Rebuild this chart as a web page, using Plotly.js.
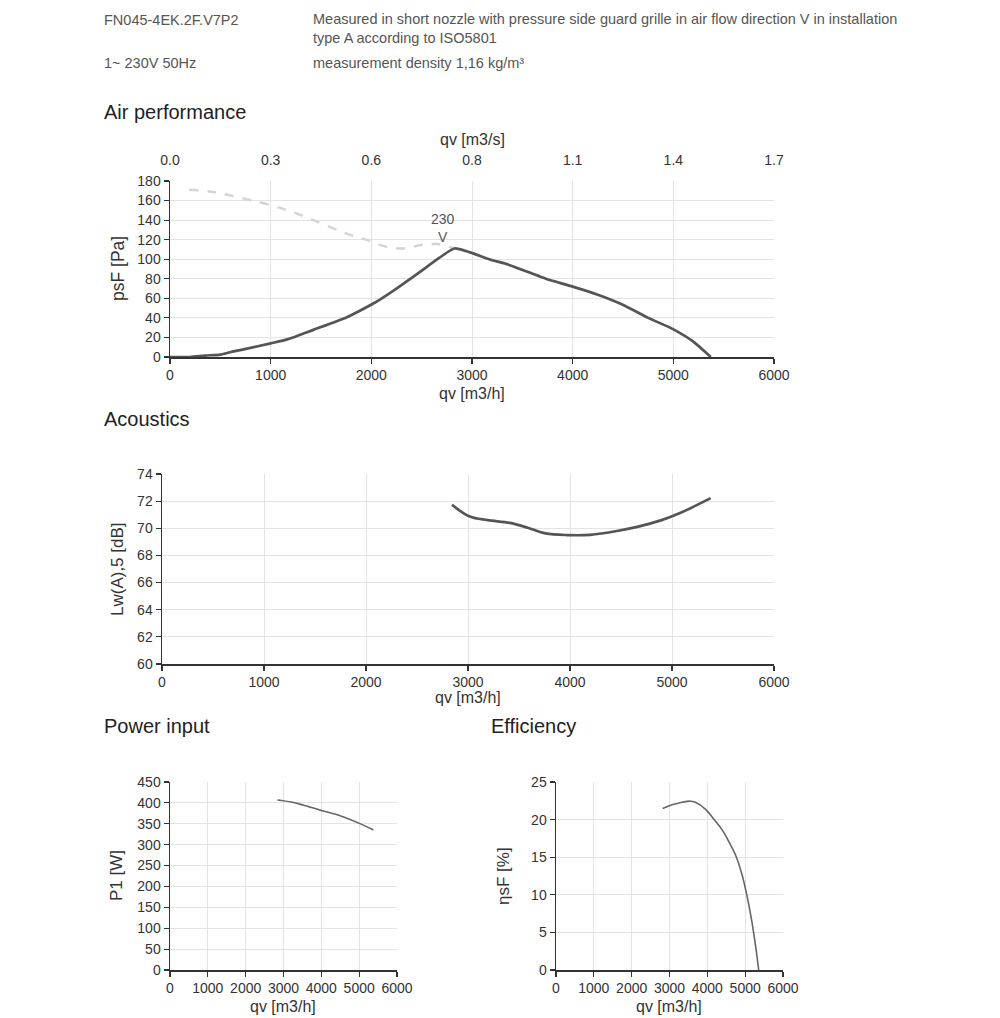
<!DOCTYPE html>
<html>
<head>
<meta charset="utf-8">
<script src="https://cdn.plot.ly/plotly-3.0.1.min.js"></script>
<style>html,body{margin:0;padding:0;background:#fff;}#chart{width:1000px;height:1018px;}</style>
</head>
<body>
<div id="chart"></div>
<script>
// ---- Data ----
const airQv = [0, 200, 350, 500, 620, 765, 1000, 1165, 1430, 1762, 2006, 2073, 2250, 2470, 2670, 2825, 2980, 3200, 3315, 3557, 3734, 4000, 4243, 4487, 4752, 4996, 5195, 5372];
const airPsf = [0, 0, 1.5, 2.5, 5.5, 8.5, 14, 18, 28, 41, 54, 58, 70, 86, 101, 111, 107, 99, 96, 87, 80, 72, 64, 54, 40, 28.5, 16, 0];
const limitQv = [190, 412, 633, 1010, 1253, 1519, 1762, 1961, 2140, 2316, 2493, 2648, 2825];
const limitPsf = [171, 169, 164.5, 155, 147, 136, 126, 119.5, 113, 111, 114.5, 115.5, 111];
const acQv = [2843, 3017, 3192, 3411, 3586, 3761, 3979, 4198, 4460, 4679, 4898, 5073, 5379];
const acLw = [71.73, 70.86, 70.6, 70.4, 70.04, 69.62, 69.5, 69.52, 69.8, 70.14, 70.6, 71.1, 72.22];
const pwQv = [2838, 3207, 3514, 3997, 4480, 5007, 5376];
const pwP1 = [407, 402, 395, 382, 370, 351, 335];
const efQv = [2819, 3066, 3330, 3550, 3683, 3947, 4141, 4388, 4564, 4740, 4916, 5048, 5181, 5286, 5357];
const efEta = [21.48, 21.96, 22.3, 22.45, 22.3, 21.4, 20.25, 18.66, 17.1, 15.36, 12.7, 9.86, 6.34, 2.8, 0];
const qvTickVals = [0, 1000, 2000, 3000, 4000, 5000, 6000];
const qvSecTickText = ['0.0', '0.3', '0.6', '0.8', '1.1', '1.4', '1.7'];
const curveLabel = '230<br>V';

// ---- Styling helpers ----
const W = 1000, H = 1018;
const px = v => v / W;
const py = v => 1 - v / H;
const NARROW = '"Liberation Sans Narrow", "Arial Narrow", "Liberation Sans", Arial, sans-serif';
const REG = '"Liberation Sans", Arial, sans-serif';
const AX = '#333333';
const GRID = '#e3e3e3';

function xAx(domain, anchor, font, size) {
  return {domain: domain, anchor: anchor, range: [0, 6000], tickvals: qvTickVals,
    showgrid: true, gridcolor: GRID, gridwidth: 1, zeroline: false,
    showline: true, linecolor: AX, linewidth: 1.5, ticks: 'outside', ticklen: 5, tickcolor: AX, tickwidth: 1.2,
    tickfont: {family: font, size: size, color: '#333'}, fixedrange: true};
}
function yAx(domain, anchor, range, dtick, font, size) {
  return {domain: domain, anchor: anchor, range: range, dtick: dtick, tick0: range[0],
    showgrid: true, gridcolor: GRID, gridwidth: 1, zeroline: false,
    showline: true, linecolor: AX, linewidth: 1.5, ticks: 'outside', ticklen: 5, tickcolor: AX, tickwidth: 1.2,
    tickfont: {family: font, size: size, color: '#333'}, fixedrange: true};
}

const traces = [
  {x: limitQv, y: limitPsf, xaxis: 'x', yaxis: 'y', mode: 'lines', line: {color: '#d4d4d4', width: 2.5, dash: 'dash', shape: 'spline'}, hoverinfo: 'skip'},
  {x: airQv, y: airPsf, xaxis: 'x', yaxis: 'y', mode: 'lines', line: {color: '#555555', width: 2.7, shape: 'spline', smoothing: 0.6}},
  {x: [0], y: [-100], xaxis: 'x2', yaxis: 'y', mode: 'markers', marker: {opacity: 0}, hoverinfo: 'skip'},
  {x: acQv, y: acLw, xaxis: 'x3', yaxis: 'y3', mode: 'lines', line: {color: '#555555', width: 2.7, shape: 'spline'}},
  {x: pwQv, y: pwP1, xaxis: 'x4', yaxis: 'y4', mode: 'lines', line: {color: '#666666', width: 1.6, shape: 'spline'}},
  {x: efQv, y: efEta, xaxis: 'x5', yaxis: 'y5', mode: 'lines', line: {color: '#666666', width: 1.6, shape: 'spline'}}
];

function txt(text, x, y, size, opts) {
  return Object.assign({text: text, x: px(x), y: py(y), xref: 'paper', yref: 'paper', showarrow: false,
    xanchor: 'left', yanchor: 'middle', align: 'left',
    font: {family: REG, size: size, color: '#333'}}, opts || {});
}
const HDR = {family: NARROW, size: 14.5, color: '#555'};
const SEC = {family: REG, size: 20, color: '#222'};

const annotations = [
  txt('FN045-4EK.2F.V7P2', 102, 20, 14.5, {font: HDR}),
  txt('Measured in short nozzle with pressure side guard grille in air flow direction V in installation<br>type A according to ISO5801', 311, 29, 14.5, {font: HDR}),
  txt('1~ 230V 50Hz', 102, 63, 14.5, {font: HDR}),
  txt('measurement density 1,16 kg/m³', 311, 63, 14.5, {font: HDR}),
  txt('Air performance', 102, 112, 20, {font: SEC}),
  txt('Acoustics', 102, 419, 20, {font: SEC}),
  txt('Power input', 102, 726, 20, {font: SEC}),
  txt('Efficiency', 489, 726, 20, {font: SEC}),
  // axis titles
  txt('qv [m3/s]', 472, 139, 16, {xanchor: 'center', font: {family: NARROW, size: 16, color: '#333'}}),
  txt('qv [m3/h]', 472, 393, 16, {xanchor: 'center', font: {family: NARROW, size: 16, color: '#333'}}),
  txt('psF [Pa]', 118, 269, 17.5, {xanchor: 'center', textangle: -90, font: {family: REG, size: 17.5, color: '#333'}}),
  txt('qv [m3/h]', 468, 697, 16, {xanchor: 'center', font: {family: NARROW, size: 16, color: '#333'}}),
  txt('Lw(A),5 [dB]', 117, 569, 17, {xanchor: 'center', textangle: -90, font: {family: REG, size: 17, color: '#333'}}),
  txt('qv [m3/h]', 283, 1006, 16, {xanchor: 'center', font: {family: REG, size: 16, color: '#333'}}),
  txt('P1 [W]', 116, 876, 17, {xanchor: 'center', textangle: -90, font: {family: REG, size: 17, color: '#333'}}),
  txt('qv [m3/h]', 669, 1006, 16, {xanchor: 'center', font: {family: REG, size: 16, color: '#333'}}),
  txt('ηsF [%]', 503, 876, 17, {xanchor: 'center', textangle: -90, font: {family: REG, size: 17, color: '#333'}}),
  // curve label
  {text: curveLabel, x: 2712, y: 132, xref: 'x', yref: 'y', showarrow: false, xanchor: 'center', yanchor: 'middle',
    font: {family: NARROW, size: 14, color: '#555'}}
];

const layout = {
  width: W, height: H, margin: {l: 0, r: 0, t: 0, b: 0}, paper_bgcolor: '#fff', plot_bgcolor: '#fff',
  showlegend: false, hovermode: false,
  xaxis: xAx([px(170), px(774)], 'y', NARROW, 14),
  yaxis: yAx([py(357), py(181)], 'x', [0, 180], 20, NARROW, 14),
  xaxis2: {overlaying: 'x', side: 'top', anchor: 'y', range: [0, 6000], tickvals: qvTickVals, ticktext: qvSecTickText,
    showgrid: false, zeroline: false, showline: false, ticks: 'outside', ticklen: 9, tickcolor: 'rgba(0,0,0,0)',
    tickfont: {family: NARROW, size: 14, color: '#333'}, fixedrange: true},
  xaxis3: xAx([px(162), px(774)], 'y3', NARROW, 14),
  yaxis3: yAx([py(664), py(474)], 'x3', [60, 74], 2, NARROW, 14),
  xaxis4: xAx([px(170), px(397)], 'y4', REG, 14),
  yaxis4: yAx([py(970), py(782)], 'x4', [0, 450], 50, REG, 14),
  xaxis5: xAx([px(556), px(783)], 'y5', REG, 14),
  yaxis5: yAx([py(970), py(782)], 'x5', [0, 25], 5, REG, 14),
  annotations: annotations
};

Plotly.newPlot('chart', traces, layout, {displayModeBar: false, staticPlot: true});
</script>
</body>
</html>
